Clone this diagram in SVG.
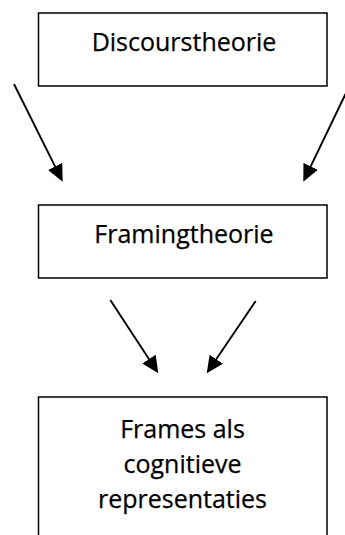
<svg xmlns="http://www.w3.org/2000/svg" width="345" height="535" viewBox="0 0 345 535">
<style>
.box{fill:#fff;stroke:#000;stroke-width:1.5}
.lbl{font-family:"Open Sans","Liberation Sans",sans-serif;font-size:25px;fill:#000;stroke:#000;stroke-width:0.25;text-anchor:middle;font-variant-ligatures:none}
.arr{stroke:#000;stroke-width:1.9;fill:none;marker-end:url(#ah)}
</style>
<defs>
<marker id="ah" viewBox="0 0 17 17" refX="11" refY="8.5" markerWidth="17" markerHeight="17" markerUnits="userSpaceOnUse" orient="auto">
<path d="M0,0.5 L17,8.5 L0,16.5 z" fill="#000"/>
</marker>
</defs>
<rect width="345" height="535" fill="#fff"/>
<g id="connectors">
<line class="arr" x1="14" y1="84" x2="60" y2="176.3"/>
<line class="arr" x1="345.5" y1="94" x2="305.9" y2="176.3"/>
<line class="arr" x1="110.3" y1="300" x2="155" y2="368.3"/>
<line class="arr" x1="255.7" y1="301" x2="210.1" y2="368.3"/>
</g>
<g id="discourstheorie">
<rect class="box" x="38.5" y="13" width="288.5" height="73"/>
<text class="lbl" x="184" y="51">Discourstheorie</text>
</g>
<g id="framingtheorie">
<rect class="box" x="38.5" y="205" width="288.5" height="73"/>
<text class="lbl" x="184" y="243">Framingtheorie</text>
</g>
<g id="frames">
<rect class="box" x="38.5" y="397" width="288.5" height="150"/>
<text class="lbl" x="182.5" y="438">Frames als</text>
<text class="lbl" x="182.5" y="473">cognitieve</text>
<text class="lbl" x="182.5" y="507.5">representaties</text>
</g>
</svg>
